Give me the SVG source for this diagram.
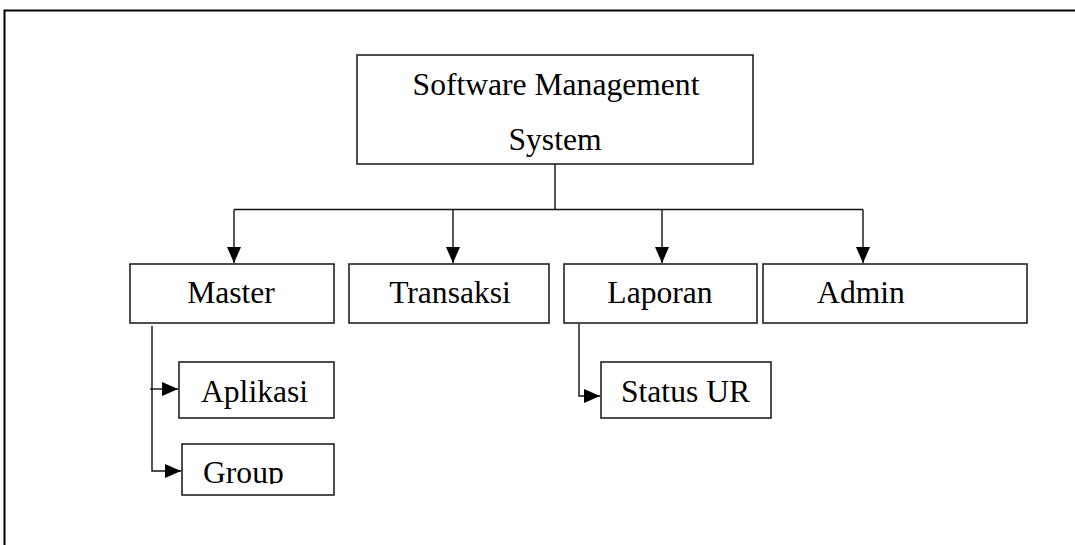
<svg xmlns="http://www.w3.org/2000/svg" width="1075" height="545" viewBox="0 0 1075 545">
<style>
.box{fill:#fff;stroke:#222;stroke-width:1.6}
.lbl{font-family:"Liberation Serif","Times New Roman",serif;font-size:31.6px;fill:#000}
.c{text-anchor:middle}
.con{fill:none;stroke:#111;stroke-width:1.4}
</style>
<defs>
<marker id="ah" markerUnits="userSpaceOnUse" markerWidth="16" markerHeight="16" viewBox="0 0 16 14" refX="16" refY="7" orient="auto">
<path d="M0,0 L16,7 L0,14 Z" fill="#000"/>
</marker>
<clipPath id="gclip"><rect x="182" y="444" width="152" height="40"/></clipPath>
</defs>
<rect width="1075" height="545" fill="#fff"/>
<path d="M4.5,545 V10.5 H1075" fill="none" stroke="#000" stroke-width="2"/>
<g id="connectors">
<path class="con" d="M555,164 V209.5"/>
<path class="con" d="M234,209.5 H863"/>
<path class="con" d="M234,209.5 V263" marker-end="url(#ah)"/>
<path class="con" d="M453,209.5 V263" marker-end="url(#ah)"/>
<path class="con" d="M662,209.5 V263" marker-end="url(#ah)"/>
<path class="con" d="M863,209.5 V263" marker-end="url(#ah)"/>
<path class="con" d="M152,326 V471 H181" marker-end="url(#ah)"/>
<path class="con" d="M150,389 H178" marker-end="url(#ah)"/>
<path class="con" d="M579,324 V396 H600" marker-end="url(#ah)"/>
</g>
<g id="root">
<rect class="box" x="357" y="55" width="396" height="109"/>
<text class="lbl c" x="556" y="95">Software Management</text>
<text class="lbl c" x="555" y="150">System</text>
</g>
<g id="master">
<rect class="box" x="130" y="264" width="204" height="59"/>
<text class="lbl c" x="231" y="303">Master</text>
</g>
<g id="transaksi">
<rect class="box" x="349" y="264" width="200" height="59"/>
<text class="lbl c" x="450" y="303">Transaksi</text>
</g>
<g id="laporan">
<rect class="box" x="564" y="264" width="193" height="59"/>
<text class="lbl c" x="660" y="303">Laporan</text>
</g>
<g id="admin">
<rect class="box" x="763" y="264" width="264" height="59"/>
<text class="lbl c" x="861" y="303">Admin</text>
</g>
<g id="aplikasi">
<rect class="box" x="179" y="362" width="155" height="56"/>
<text class="lbl" x="201" y="402">Aplikasi</text>
</g>
<g id="group">
<rect class="box" x="182" y="444" width="152" height="51"/>
<text class="lbl" x="203" y="483" clip-path="url(#gclip)">Group</text>
</g>
<g id="status-ur">
<rect class="box" x="601" y="362" width="170" height="56"/>
<text class="lbl" x="621" y="402">Status UR</text>
</g>
</svg>
